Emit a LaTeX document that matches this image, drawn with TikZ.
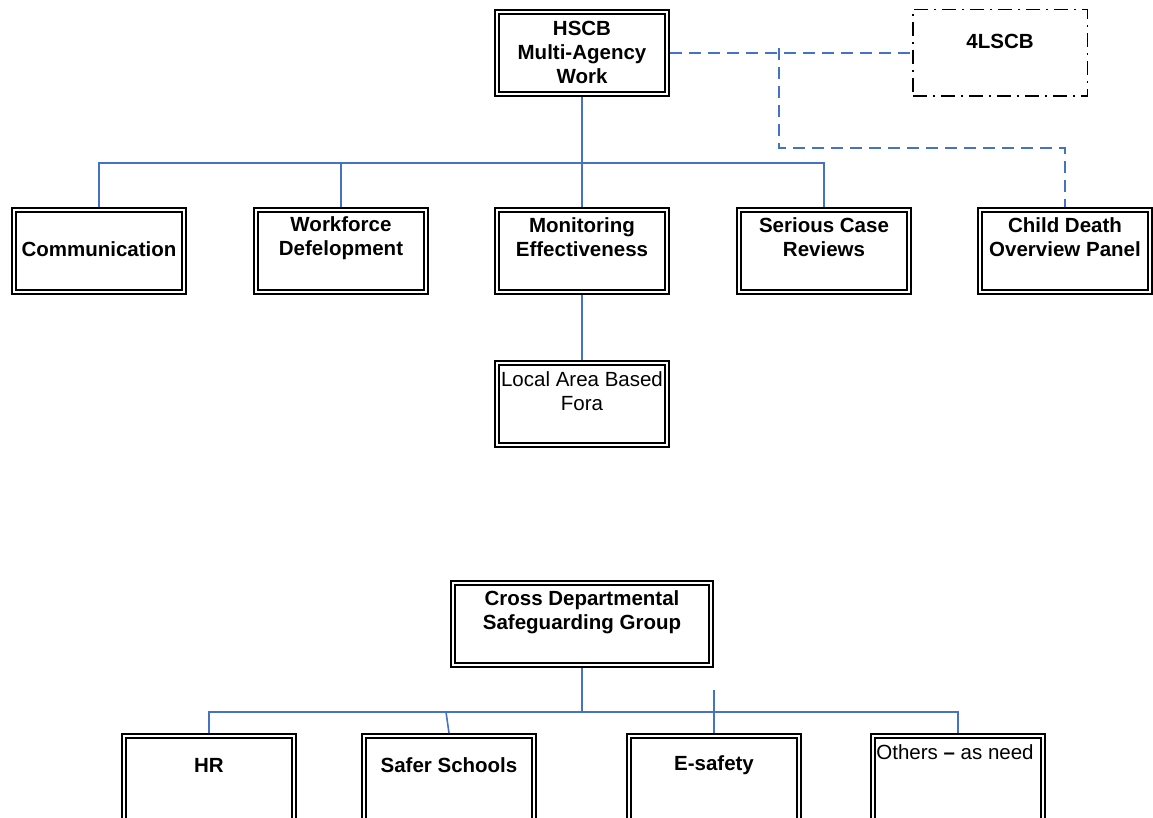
\documentclass[tikz,border=0pt]{standalone}
\usepackage{fontspec}
\setmainfont{Liberation Sans}
\definecolor{lblue}{RGB}{68,114,196}
\begin{document}
\begin{tikzpicture}[x=1pt,y=-1pt,
  box/.style={draw=black, line width=1.8pt,
    minimum width=174.2pt, minimum height=86.2pt, inner sep=0pt,
    path picture={\draw[line width=2.2pt]
      ([shift={(4pt,-4pt)}]path picture bounding box.north west) rectangle
      ([shift={(-4pt,4pt)}]path picture bounding box.south east);}},
  widebox/.style={box, minimum width=262.2pt},
  lowbox/.style={box, minimum height=96pt},
  ddbox/.style={draw=black, line width=1.5pt, dash pattern=on 14pt off 6pt on 2pt off 6pt,
    minimum width=174.5pt, minimum height=86.5pt, inner sep=0pt},
  txt/.style={font=\fontsize{20.5}{24}\selectfont\bfseries, align=center, inner sep=0pt},
  ntxt/.style={txt, font=\fontsize{20.5}{24}\selectfont},
  conn/.style={draw=lblue, line width=1.6pt},
  dconn/.style={conn, dash pattern=on 12pt off 7pt}]
\clip (0,0) rectangle (1153,818);
% boxes
\node[box] (hscb) at (582,53) {};
\node[ddbox] (l4) at (1000,53) {};
\node[box] (comm) at (99,251) {};
\node[box] (wf) at (341,251) {};
\node[box] (mon) at (582,251) {};
\node[box] (ser) at (824,251) {};
\node[box] (cdop) at (1065,251) {};
\node[box] (local) at (582,404) {};
\node[widebox] (cross) at (582,624) {};
\node[lowbox] (hr) at (209,782) {};
\node[lowbox] (safer) at (449,782) {};
\node[lowbox] (esafe) at (714,782) {};
\node[lowbox] (oth) at (958,782) {};
% texts
\node[txt] (t-hscb) at (582,52) {HSCB\\Multi-Agency\\Work};
\node[txt] (t-l4) at (1000,41) {4LSCB};
\node[txt] (t-comm) at (99,249) {Communication};
\node[txt] (t-wf) at (341,238.5) {Workforce\\Defelopment};
\node[txt] (t-mon) at (582,237) {Monitoring\\Effectiveness};
\node[txt] (t-ser) at (824,237) {Serious Case\\Reviews};
\node[txt] (t-cdop) at (1065,237) {Child Death\\Overview Panel};
\node[ntxt] (t-local) at (582,391.5) {Local Area Based\\Fora};
\node[txt] (t-cross) at (582,612) {Cross Departmental\\Safeguarding Group};
\node[txt] (t-hr) at (209,765) {HR};
\node[txt] (t-safer) at (449,765) {Safer Schools};
\node[txt] (t-esafe) at (714,765) {E-safety};
\node[ntxt] (t-oth) at (955,752) {Others \textbf{--} as need};
% connectors top
\coordinate (bus1) at (582,163);
\draw[conn] (hscb.south) -- (mon.north);
\draw[conn] (comm.north) -- (comm.north |- bus1) -- (ser.north |- bus1) -- (ser.north);
\draw[conn] (wf.north) -- (wf.north |- bus1);
\draw[conn] (mon.south) -- (local.north);
% dashed
\draw[dconn] (hscb.east) -- (l4.west);
\coordinate (dtop) at (779,48);
\coordinate (dcorner) at (779,148);
\draw[dconn] (dtop) -- (dcorner) -| (cdop.north);
% bottom
\coordinate (bus2) at (582,712);
\coordinate (etop) at (714,690);
\draw[conn] (cross.south) -- (bus2);
\draw[conn] (hr.north) -- (hr.north |- bus2) -- (oth.north |- bus2) -- (oth.north);
\draw[conn] (safer.north) -- ([xshift=-3pt]safer.north |- bus2);
\draw[conn] (etop) -- (esafe.north);
\end{tikzpicture}
\end{document}
